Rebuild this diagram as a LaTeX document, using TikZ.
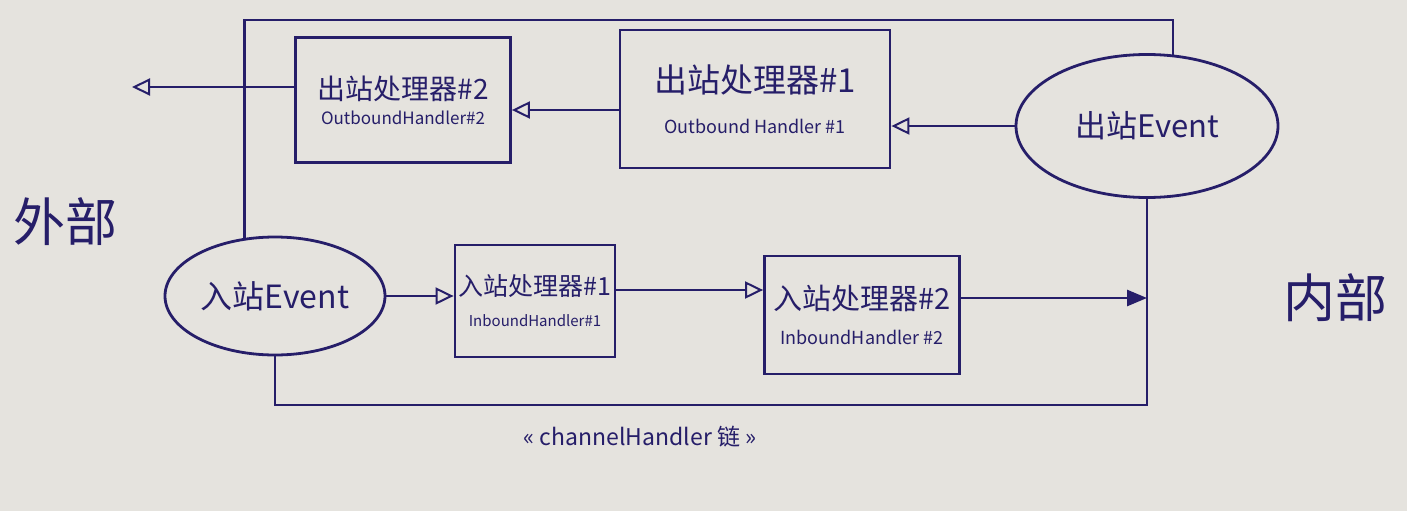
\documentclass[tikz,border=0pt]{standalone}
\usepackage{fontspec}
\setmainfont{Noto Sans CJK SC}
\usetikzlibrary{arrows.meta,shapes.geometric}
\definecolor{ink}{RGB}{38,30,105}
\definecolor{paper}{RGB}{229,227,222}

\begin{document}
\begin{tikzpicture}[
  x=1pt, y=-1pt,
  every node/.style={text=ink, align=center, font=\fontsize{18}{21}\selectfont},
  handler/.style={draw=ink, line width=2.8pt, rectangle, inner sep=3pt},
  event/.style={draw=ink, line width=2.8pt, ellipse, inner sep=0pt},
  wire/.style={draw=ink, line width=2.8pt},
  flow/.style={wire, -{Triangle[open, length=18pt, width=17pt, line width=2pt]}},
  sink/.style={wire, -{Triangle[length=20pt, width=16pt]}},
  side/.style={font=\fontsize{52}{58}\selectfont}
]
\fill[paper] (0,0) rectangle (1407,511);

\node[side] (outside) at (65,222) {外部};
\node[side] (inside) at (1335,298) {内部};

\node[event, minimum width=220, minimum height=118, font=\fontsize{32}{36}\selectfont] (inev) at (275,296) {入站Event};
\node[event, minimum width=262, minimum height=143, font=\fontsize{31}{36}\selectfont] (outev) at (1147,126) {出站Event};

\node[handler, minimum width=215, minimum height=125] (oh2) at (403,100)
  {{\fontsize{28}{32}\selectfont 出站处理器\#2}\\[4pt]{\fontsize{17}{20}\selectfont OutboundHandler\#2}};
\node[handler, minimum width=270, minimum height=138] (oh1) at (755,99)
  {{\fontsize{33}{38}\selectfont 出站处理器\#1}\\[20pt]Outbound Handler \#1};
\node[handler, minimum width=160, minimum height=112] (ih1) at (535,301)
  {{\fontsize{25}{30}\selectfont 入站处理器\#1}\\[10pt]{\fontsize{15}{18}\selectfont InboundHandler\#1}};
\node[handler, minimum width=195, minimum height=118] (ih2) at (862,315)
  {{\fontsize{29}{34}\selectfont 入站处理器\#2}\\[14pt]InboundHandler \#2};

\node[font=\fontsize{23}{27}\selectfont] (chain) at (640,437) {« channelHandler 链 »};

\coordinate (topy) at (0,20);
\coordinate (boty) at (0,405);
\coordinate (ext) at (132,87);

\draw[wire] (inev.118) |- (outev.70 |- topy) -- (outev.70);
\draw[wire] (inev.south) |- (outev.south |- boty) -- (outev.south);

\draw[flow] (inev.east) -- (ih1.west |- inev.east);
\draw[flow] (ih1.east |- 0,290) -- (ih2.west |- 0,290);
\draw[sink] (ih2.east |- 0,298) -- (outev.south |- 0,298);
\draw[flow] (outev.west) -- (oh1.east |- outev.west);
\draw[flow] (oh1.west |- 0,110) -- (oh2.east |- 0,110);
\draw[flow] (oh2.west |- 0,87) -- (ext);
\end{tikzpicture}
\end{document}
